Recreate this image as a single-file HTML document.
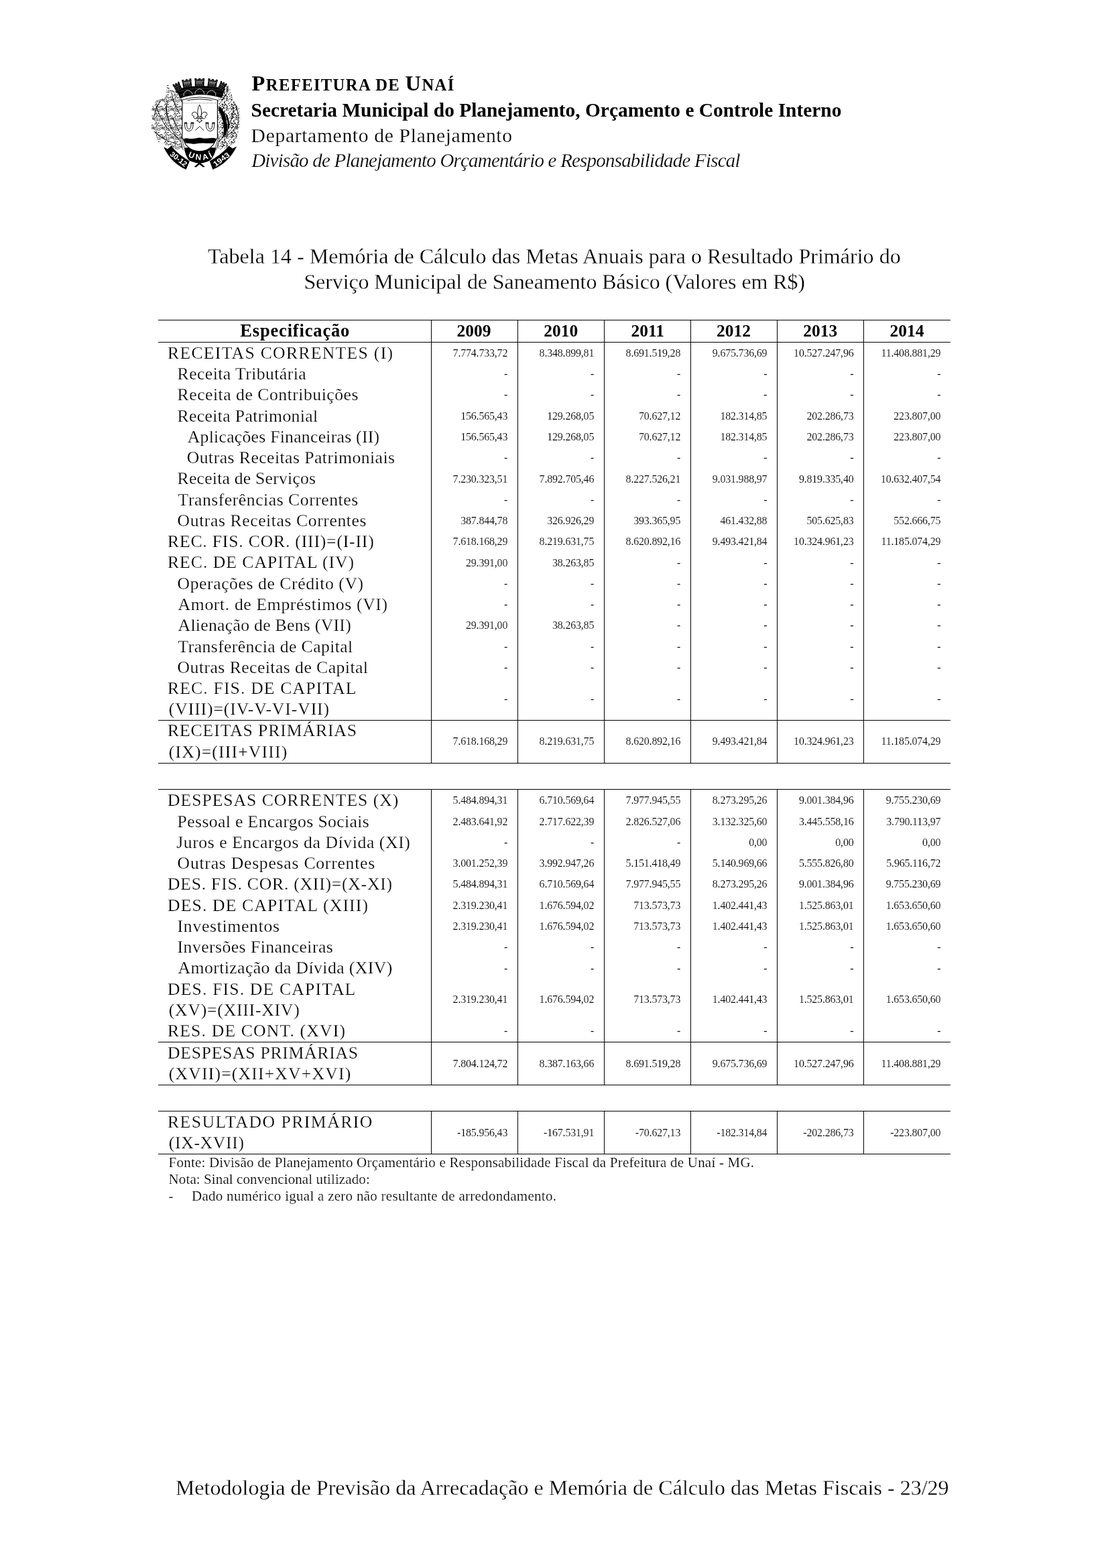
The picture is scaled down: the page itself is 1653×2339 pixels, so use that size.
<!DOCTYPE html>
<html lang="pt-BR">
<head>
<meta charset="utf-8">
<title>Tabela 14 - Memória de Cálculo das Metas Anuais</title>
<style>
html,body{margin:0;padding:0;background:#fff;}
body{width:1653px;height:2339px;position:relative;overflow:hidden;font-family:"Liberation Serif",serif;color:#000;}
.page{position:absolute;left:0;top:0;width:1653px;height:2339px;background:#fff;}
.t{position:absolute;white-space:pre;line-height:1;margin:0;padding:0;-webkit-text-stroke:0.25px #fff;}
.hl{position:absolute;height:1px;background:#000;}
.vl{position:absolute;width:1px;background:#000;}
.num{font-size:16px;-webkit-text-stroke-width:0.14px;}
.bd{-webkit-text-stroke-width:0;}
.fn{-webkit-text-stroke-width:0.22px;}
.big{-webkit-text-stroke-width:0.3px;}
.b{font-weight:bold;}
.i{font-style:italic;}
svg{position:absolute;overflow:visible;}
</style>
</head>
<body>
<div class="page">

<svg class="crest" style="left:220px;top:110px" width="145" height="150" viewBox="220 110 145 150" role="img" aria-label="Brasão de Unaí">
<defs>
<pattern id="dl" width="14" height="14" patternUnits="userSpaceOnUse"><path d="M3.3 7.6l2.1 2.1M6.6 8.1l0.6 1.1M11.7 3.6l0.0 1.6M10.0 7.6l1.1 1.9M8.9 2.1l0.8 -1.3M13.0 5.5l2.5 0.0M0.9 10.6l0.6 1.1M10.9 11.5l1.5 1.5M10.1 12.3l1.4 -2.4M6.0 10.2l1.0 1.8M13.1 12.3l1.3 0.0M6.9 3.6l1.0 -1.8M8.8 4.2l1.4 2.5M8.0 7.5l1.7 -1.7M12.7 9.5l2.9 0.0M13.9 9.4l0.0 2.6M4.6 7.6l1.2 2.0M10.0 3.0l0.9 1.5M1.7 6.7l1.6 -2.8M1.2 11.2l2.1 -2.1M0.3 6.0l2.1 -2.1M0.6 8.6l2.0 0.0M8.2 7.7l1.6 1.6M14.0 4.3l1.4 0.0M7.5 13.3l1.3 -1.3M3.7 9.7l1.3 1.3M13.4 12.6l1.4 -1.4M12.2 5.4l1.3 2.2M1.4 13.6l0.9 1.5M8.9 10.0l1.5 1.5M3.6 4.2l0.9 0.9M5.8 8.1l2.0 0.0M8.2 1.9l1.2 -2.1M6.5 9.5l1.7 1.7M3.9 6.9l0.7 1.1M9.5 13.5l1.7 1.7M4.2 8.4l0.0 1.9M4.4 5.2l0.9 1.5M11.0 1.5l3.1 0.0M9.6 1.8l0.8 1.4" stroke="#000" stroke-width=".8" fill="none"/></pattern>
<pattern id="dr" width="14" height="14" patternUnits="userSpaceOnUse"><path d="M6.3 7.8l1.6 -1.6M12.0 2.7l1.1 1.9M8.6 2.6l1.3 -1.3M1.3 11.3l1.3 -2.2M8.3 5.5l1.9 -1.9M8.6 2.2l3.0 0.0M0.9 0.5l0.0 2.5M10.9 4.6l1.5 2.6M7.3 9.0l0.9 -0.9M1.2 9.2l2.4 -2.4M13.9 11.8l0.9 -1.5M10.6 7.2l1.4 0.0M10.7 5.6l1.4 1.4M13.4 11.9l1.7 0.0M13.0 0.7l2.4 -2.4M5.6 1.0l0.8 -1.4M9.4 4.7l1.4 1.4M13.5 10.6l1.5 0.0M9.9 0.2l2.1 -2.1M2.5 7.8l1.6 -1.6M13.8 10.8l1.8 -1.8M1.6 5.9l0.0 1.2M12.1 13.6l0.9 1.6M12.4 2.9l2.4 -2.4M8.4 8.1l3.4 0.0M3.0 3.6l1.0 1.7M4.1 1.0l1.7 0.0M8.9 0.2l1.4 1.4M6.3 13.4l2.1 -2.1M1.9 5.4l0.8 -1.3M12.7 11.4l0.0 2.8M2.2 8.8l0.8 1.4M13.3 12.4l0.7 1.2M0.7 1.5l1.7 2.9M3.3 9.9l1.5 1.5M12.7 6.9l0.8 1.4M10.1 1.0l0.0 2.3M9.1 8.6l1.8 0.0M12.8 2.9l1.4 0.0M5.8 3.5l1.6 0.0M5.2 8.0l0.0 1.4M1.9 6.3l1.9 1.9M9.7 8.2l0.0 2.5M12.9 6.6l1.9 1.9" stroke="#000" stroke-width=".9" fill="none"/></pattern>
</defs>
<polygon points="271.8,150 268,141 262,136 254,134 251,126 249,126 248.5,140 245,147 236,148 228,154 226,165 227,180 225.5,192 232,200 236,212 246,216 256,219 266,224 271.8,222" fill="url(#dl)"/>
<polygon points="324.6,150 327,143 332,138 336,130 338,126 343,132 346,142 347,150 352,153 357,160 358,175 357.6,186 355,200 350,213 340,219 330,224 324.6,222" fill="url(#dr)"/>
<g stroke="#000" fill="none" stroke-width=".9" stroke-linecap="round">
<path d="M270 212 Q252 196 247 160 M266 206 Q243 192 233 158 M262 214 Q244 210 230 196 M268 170 Q258 152 256 138 M240 150 q-8 10 -10 24 M250 150 q-4 14 2 30 M258 176 q6 16 12 24"/>
<path d="M326 212 Q344 196 349 160 M328 160 Q338 175 340 200 M330 150 Q342 140 340 128 M352 158 q6 14 2 34 M334 205 q10 -4 18 -16"/>
</g>
<path d="M327 158 q9 8 11 22 q2 14 -1 22 l-4 1 q2 -14 -1 -24 q-3 -10 -6 -14z M338 170 q5 10 4 22 l-2 0 q0 -12 -3 -20z" fill="#000"/>
<g transform="translate(220 110) scale(.08937)">
<g fill="#000">
<path d="M478 262 Q870 150 1300 250 L1236 404 Q870 292 548 412Z"/>
<path transform="rotate(0 870 165)" d="M787 75h33v18h33v-18h33v18h33v-18h33v40h-5V255H792V115h-5Z"/>
<path transform="rotate(-9 665 178)" d="M584 90h32v18h32v-18h32v18h32v-18h32v40h-5V266H589V130h-5Z"/>
<path transform="rotate(9 1082 176)" d="M1001 88h32v18h32v-18h32v18h32v-18h32v40h-5V264H1006V128h-5Z"/>
<path transform="rotate(-26 508 232)" d="M448 147h24v18h24v-18h24v18h24v-18h24v40h-5V317H453V187h-5Z"/>
<path transform="rotate(26 1242 218)" d="M1184 133h23v18h23v-18h23v18h23v-18h23v40h-5V303H1189V173h-5Z"/>
</g>
<g stroke="#fff" fill="none">
<g transform="rotate(0 870 165)">
<path d="M799 107h142" stroke-width="8" stroke-dasharray="8 9"/>
<path d="M809 131h122" stroke-width="9"/>
<path d="M817 153h106" stroke-width="16" stroke-dasharray="14 12"/>
<path d="M813 179h114" stroke-width="8" stroke-dasharray="10 8"/>
<path d="M805 201h130" stroke-width="7" stroke-dasharray="7 10"/>
</g>
<g transform="rotate(-9 665 178)">
<path d="M596 120h138" stroke-width="8" stroke-dasharray="8 9"/>
<path d="M606 144h118" stroke-width="9"/>
<path d="M614 166h102" stroke-width="16" stroke-dasharray="14 12"/>
<path d="M610 192h110" stroke-width="8" stroke-dasharray="10 8"/>
<path d="M602 214h126" stroke-width="7" stroke-dasharray="7 10"/>
</g>
<g transform="rotate(9 1082 176)">
<path d="M1013 118h138" stroke-width="8" stroke-dasharray="8 9"/>
<path d="M1023 142h118" stroke-width="9"/>
<path d="M1031 164h102" stroke-width="16" stroke-dasharray="14 12"/>
<path d="M1027 190h110" stroke-width="8" stroke-dasharray="10 8"/>
<path d="M1019 212h126" stroke-width="7" stroke-dasharray="7 10"/>
</g>
<g transform="rotate(-26 508 232)">
<path d="M464 182h88" stroke-width="8" stroke-dasharray="8 9"/>
<path d="M470 210h76" stroke-width="10" stroke-dasharray="9 9"/>
<path d="M466 240h84" stroke-width="8" stroke-dasharray="7 10"/>
<path d="M468 268h80" stroke-width="8" stroke-dasharray="8 9"/>
</g>
<g transform="rotate(26 1242 218)">
<path d="M1200 168h84" stroke-width="8" stroke-dasharray="8 9"/>
<path d="M1206 196h72" stroke-width="10" stroke-dasharray="9 9"/>
<path d="M1202 226h80" stroke-width="8" stroke-dasharray="7 10"/>
<path d="M1204 254h76" stroke-width="8" stroke-dasharray="8 9"/>
</g>
<path d="M792 338 L800 300 Q870 205 940 300 L948 338" stroke-width="9"/>
<path d="M606 372 L606 330 Q664 232 742 318 L752 346" stroke-width="9"/>
<path d="M1140 368 L1138 328 Q1078 232 1002 316 L992 344" stroke-width="9"/>
<path d="M520 300 Q870 190 1270 290" stroke-width="7" stroke-dasharray="7 13"/>
<path d="M548 352 Q870 250 1250 342" stroke-width="7" stroke-dasharray="6 15"/>
</g>
</g>
<path d="M274.8 220.4 L297.7 219 L322.4 220.4 Q320.6 232 313.4 239.4 Q297.7 246.6 282.6 239.8 Q276 232 274.8 220.4Z" fill="#000"/>
<g fill="#fff" stroke="#000" stroke-width="1">
<path d="M270.9 149.4 Q297.7 140.6 324.6 149.4 L324.6 152 Q297.7 143.6 270.9 152Z" fill="#fff" stroke-width=".9"/>
<path d="M271.9 150 V205 L277 215.6 Q285 225.6 297.7 225.8 Q310.6 225.6 318.4 215.6 L324.4 205 V150" stroke-width="1.1"/>
</g>
<path d="M273 153.8H323" stroke="#000" stroke-width=".8" stroke-dasharray=".8 1.6" fill="none"/>
<path d="M268.6 206 L273.4 224 M270.4 205 L275.6 222 M327.6 206 L322.6 224 M325.8 205 L320.6 222" stroke="#000" stroke-width=".7" fill="none"/>
<path d="M273.6 207.6 Q277 205.6 282 206.8 Q290 207.4 296 205.6 Q300 205 303 206.4 Q310 207 316 205.8 Q320 205.4 322.8 207 L319.4 213.4 Q312 214.2 304 213.6 Q297 213.4 292 214.6 Q288 215 286.6 214.6 Q281 213.8 277 213.6Z" fill="#000"/>
<g fill="#fff" stroke="#000" stroke-width=".9" stroke-linejoin="round">
<path d="M297.7 156.2 Q302.4 165 299.6 174.6 L295.8 174.6 Q293 165 297.7 156.2Z"/>
<path d="M295.6 174.4 Q294.6 167.6 290.4 167 Q286.4 167 286.4 170.6 Q286.8 173.4 289.4 173.2 Q288 176.4 291 177 Q294 177.2 295.6 175.6Z"/>
<path d="M299.8 174.4 Q300.8 167.6 305 167 Q309 167 309 170.6 Q308.6 173.4 306 173.2 Q307.4 176.4 304.4 177 Q301.4 177.2 299.8 175.6Z"/>
<path d="M293.6 174.6h8.2v2h-8.2z"/>
<path d="M296.6 176.6 Q295.4 179.6 293.6 180.2 L296.4 180.8 L297.7 183.4 L299 180.8 L301.8 180.2 Q300 179.6 298.8 176.6Z"/>
</g>
<g fill="none" stroke="#000" stroke-width=".9">
<path d="M275.6 183.6 Q275 195.4 281.8 195.6 Q288.8 195.4 288 183.6 M278.6 184 Q278.4 192.4 281.8 192.6 Q285.4 192.4 285 184"/>
<path d="M307.4 183.6 Q306.8 195.4 313.6 195.6 Q320.6 195.4 319.8 183.6 M310.4 184 Q310.2 192.4 313.6 192.6 Q317.2 192.4 316.8 184"/>
<path d="M291.4 194.6 L297.7 188.4 L304 194.6"/>
</g>
<path d="M275 182.4h4.2v2.2h-4.2z M284.6 182.4h4.8v2.2h-4.8z M306.6 182.4h4.8v2.2h-4.8z M316.4 182.4h4.2v2.2h-4.2z" fill="#000"/>
<g fill="#000">
<path d="M244.1 219.3 L250 222.2 L255.3 217.8 Q268 233 283.2 239.4 L277.6 252.9 Q255 243 244.1 219.3Z"/>
<path d="M353.2 218.4 L346.9 221.6 L341.5 217.5 Q328 233 312.6 239.4 L317.4 252.9 Q341 243 353.2 218.4Z"/>
<path d="M289.6 248.8 L296 243.4 L290.6 242.4 L291 241.2 L304.4 241.2 L304.8 242.4 L299.4 243.4 L305.8 248.8 L303 249.6 L297.7 245.2 L292.4 249.6Z"/>
</g>
<path d="M268.6 228.4 Q275 236 283.6 240.4 M327.4 228.4 Q321 236 312.2 240.4" stroke="#fff" stroke-width=".9" fill="none"/>
<g fill="#fff" font-family="'Liberation Sans', sans-serif" font-weight="bold" text-anchor="middle">
<text font-size="11" transform="translate(264.2 240.2) rotate(38.5)" textLength="29" lengthAdjust="spacingAndGlyphs">30-12</text>
<text font-size="11" transform="translate(332.4 240.8) rotate(-36.7)" textLength="27.5" lengthAdjust="spacingAndGlyphs">1943</text>
<path id="unaiarc" d="M277.8 231.4 Q298.9 245.4 320 232.6" fill="none"/>
<text font-size="12" letter-spacing="3.1"><textPath href="#unaiarc" startOffset="53.5%">UNAÍ</textPath></text>
</g>
</svg>
<header>
<div class="t bd" style="top:107.78px;font-size:24.6px;left:375.60px;letter-spacing:1.371px;font-weight:bold;"><span style="font-size:32.5px">P</span>REFEITURA DE <span style="font-size:32.5px">U</span>NAÍ</div>
<div class="t bd" style="top:149.58px;font-size:29.4px;left:374.60px;letter-spacing:0.005px;font-weight:bold;">Secretaria Municipal do Planejamento, Orçamento e Controle Interno</div>
<div class="t" style="top:187.81px;font-size:29.6px;left:374.60px;letter-spacing:0.667px;">Departamento de Planejamento</div>
<div class="t" style="top:224.70px;font-size:28.9px;left:375.20px;letter-spacing:-0.751px;font-style:italic;">Divisão de Planejamento Orçamentário e Responsabilidade Fiscal</div>
</header>
<main>
<div class="t big" style="top:365.60px;font-size:32px;left:310.00px;letter-spacing:0.032px;">Tabela 14 - Memória de Cálculo das Metas Anuais para o Resultado Primário do</div>
<div class="t big" style="top:403.50px;font-size:32px;left:453.40px;letter-spacing:-0.096px;">Serviço Municipal de Saneamento Básico (Valores em R$)</div>
<section class="table">
<div class="hl" style="left:236px;top:477px;width:1182px"></div>
<div class="hl" style="left:236px;top:510px;width:1182px"></div>
<div class="hl" style="left:236px;top:1074px;width:1182px"></div>
<div class="hl" style="left:236px;top:1138px;width:1182px"></div>
<div class="hl" style="left:236px;top:1177px;width:1182px"></div>
<div class="hl" style="left:236px;top:1554px;width:1182px"></div>
<div class="hl" style="left:236px;top:1618px;width:1182px"></div>
<div class="hl" style="left:236px;top:1657px;width:1182px"></div>
<div class="hl" style="left:236px;top:1721px;width:1182px"></div>
<div class="vl" style="left:643px;top:477px;height:662px"></div>
<div class="vl" style="left:643px;top:1177px;height:442px"></div>
<div class="vl" style="left:643px;top:1657px;height:65px"></div>
<div class="vl" style="left:772px;top:477px;height:662px"></div>
<div class="vl" style="left:772px;top:1177px;height:442px"></div>
<div class="vl" style="left:772px;top:1657px;height:65px"></div>
<div class="vl" style="left:901px;top:477px;height:662px"></div>
<div class="vl" style="left:901px;top:1177px;height:442px"></div>
<div class="vl" style="left:901px;top:1657px;height:65px"></div>
<div class="vl" style="left:1030px;top:477px;height:662px"></div>
<div class="vl" style="left:1030px;top:1177px;height:442px"></div>
<div class="vl" style="left:1030px;top:1657px;height:65px"></div>
<div class="vl" style="left:1159px;top:477px;height:662px"></div>
<div class="vl" style="left:1159px;top:1177px;height:442px"></div>
<div class="vl" style="left:1159px;top:1657px;height:65px"></div>
<div class="vl" style="left:1288px;top:477px;height:662px"></div>
<div class="vl" style="left:1288px;top:1177px;height:442px"></div>
<div class="vl" style="left:1288px;top:1657px;height:65px"></div>
<div class="t bd" style="top:479.61px;font-size:26.5px;left:-59.80px;width:1000px;text-align:center;letter-spacing:0.833px;font-weight:bold;">Especificação</div>
<div class="t bd" style="top:480.94px;font-size:25.5px;left:206.90px;width:1000px;text-align:center;font-weight:bold;">2009</div>
<div class="t bd" style="top:480.94px;font-size:25.5px;left:336.80px;width:1000px;text-align:center;font-weight:bold;">2010</div>
<div class="t bd" style="top:480.94px;font-size:25.5px;left:466.20px;width:1000px;text-align:center;font-weight:bold;">2011</div>
<div class="t bd" style="top:480.94px;font-size:25.5px;left:594.60px;width:1000px;text-align:center;font-weight:bold;">2012</div>
<div class="t bd" style="top:480.94px;font-size:25.5px;left:723.80px;width:1000px;text-align:center;font-weight:bold;">2013</div>
<div class="t bd" style="top:480.94px;font-size:25.5px;left:853.00px;width:1000px;text-align:center;font-weight:bold;">2014</div>
<div class="t" style="top:513.78px;font-size:25.7px;left:250.00px;letter-spacing:1.286px;">RECEITAS CORRENTES (I)</div>
<div class="t num" style="top:518.90px;font-size:16px;right:895.80px;letter-spacing:-0.2px;">7.774.733,72</div>
<div class="t num" style="top:518.90px;font-size:16px;right:766.80px;letter-spacing:-0.2px;">8.348.899,81</div>
<div class="t num" style="top:518.90px;font-size:16px;right:637.80px;letter-spacing:-0.2px;">8.691.519,28</div>
<div class="t num" style="top:518.90px;font-size:16px;right:508.60px;letter-spacing:-0.2px;">9.675.736,69</div>
<div class="t num" style="top:518.90px;font-size:16px;right:379.50px;letter-spacing:-0.2px;">10.527.247,96</div>
<div class="t num" style="top:518.90px;font-size:16px;right:249.70px;letter-spacing:-0.2px;">11.408.881,29</div>
<div class="t" style="top:545.05px;font-size:25.7px;left:264.60px;letter-spacing:0.429px;">Receita Tributária</div>
<div class="t num" style="top:550.17px;font-size:16px;right:895.80px;letter-spacing:-0.2px;">-</div>
<div class="t num" style="top:550.17px;font-size:16px;right:766.80px;letter-spacing:-0.2px;">-</div>
<div class="t num" style="top:550.17px;font-size:16px;right:637.80px;letter-spacing:-0.2px;">-</div>
<div class="t num" style="top:550.17px;font-size:16px;right:508.60px;letter-spacing:-0.2px;">-</div>
<div class="t num" style="top:550.17px;font-size:16px;right:379.50px;letter-spacing:-0.2px;">-</div>
<div class="t num" style="top:550.17px;font-size:16px;right:249.70px;letter-spacing:-0.2px;">-</div>
<div class="t" style="top:576.32px;font-size:25.7px;left:264.60px;letter-spacing:0.509px;">Receita de Contribuições</div>
<div class="t num" style="top:581.44px;font-size:16px;right:895.80px;letter-spacing:-0.2px;">-</div>
<div class="t num" style="top:581.44px;font-size:16px;right:766.80px;letter-spacing:-0.2px;">-</div>
<div class="t num" style="top:581.44px;font-size:16px;right:637.80px;letter-spacing:-0.2px;">-</div>
<div class="t num" style="top:581.44px;font-size:16px;right:508.60px;letter-spacing:-0.2px;">-</div>
<div class="t num" style="top:581.44px;font-size:16px;right:379.50px;letter-spacing:-0.2px;">-</div>
<div class="t num" style="top:581.44px;font-size:16px;right:249.70px;letter-spacing:-0.2px;">-</div>
<div class="t" style="top:607.59px;font-size:25.7px;left:264.60px;letter-spacing:0.350px;">Receita Patrimonial</div>
<div class="t num" style="top:612.71px;font-size:16px;right:895.80px;letter-spacing:-0.2px;">156.565,43</div>
<div class="t num" style="top:612.71px;font-size:16px;right:766.80px;letter-spacing:-0.2px;">129.268,05</div>
<div class="t num" style="top:612.71px;font-size:16px;right:637.80px;letter-spacing:-0.2px;">70.627,12</div>
<div class="t num" style="top:612.71px;font-size:16px;right:508.60px;letter-spacing:-0.2px;">182.314,85</div>
<div class="t num" style="top:612.71px;font-size:16px;right:379.50px;letter-spacing:-0.2px;">202.286,73</div>
<div class="t num" style="top:612.71px;font-size:16px;right:249.70px;letter-spacing:-0.2px;">223.807,00</div>
<div class="t" style="top:638.86px;font-size:25.7px;left:279.80px;letter-spacing:0.258px;">Aplicações Financeiras (II)</div>
<div class="t num" style="top:643.98px;font-size:16px;right:895.80px;letter-spacing:-0.2px;">156.565,43</div>
<div class="t num" style="top:643.98px;font-size:16px;right:766.80px;letter-spacing:-0.2px;">129.268,05</div>
<div class="t num" style="top:643.98px;font-size:16px;right:637.80px;letter-spacing:-0.2px;">70.627,12</div>
<div class="t num" style="top:643.98px;font-size:16px;right:508.60px;letter-spacing:-0.2px;">182.314,85</div>
<div class="t num" style="top:643.98px;font-size:16px;right:379.50px;letter-spacing:-0.2px;">202.286,73</div>
<div class="t num" style="top:643.98px;font-size:16px;right:249.70px;letter-spacing:-0.2px;">223.807,00</div>
<div class="t" style="top:670.13px;font-size:25.7px;left:278.80px;letter-spacing:0.444px;">Outras Receitas Patrimoniais</div>
<div class="t num" style="top:675.25px;font-size:16px;right:895.80px;letter-spacing:-0.2px;">-</div>
<div class="t num" style="top:675.25px;font-size:16px;right:766.80px;letter-spacing:-0.2px;">-</div>
<div class="t num" style="top:675.25px;font-size:16px;right:637.80px;letter-spacing:-0.2px;">-</div>
<div class="t num" style="top:675.25px;font-size:16px;right:508.60px;letter-spacing:-0.2px;">-</div>
<div class="t num" style="top:675.25px;font-size:16px;right:379.50px;letter-spacing:-0.2px;">-</div>
<div class="t num" style="top:675.25px;font-size:16px;right:249.70px;letter-spacing:-0.2px;">-</div>
<div class="t" style="top:701.40px;font-size:25.7px;left:264.60px;letter-spacing:0.217px;">Receita de Serviços</div>
<div class="t num" style="top:706.52px;font-size:16px;right:895.80px;letter-spacing:-0.2px;">7.230.323,51</div>
<div class="t num" style="top:706.52px;font-size:16px;right:766.80px;letter-spacing:-0.2px;">7.892.705,46</div>
<div class="t num" style="top:706.52px;font-size:16px;right:637.80px;letter-spacing:-0.2px;">8.227.526,21</div>
<div class="t num" style="top:706.52px;font-size:16px;right:508.60px;letter-spacing:-0.2px;">9.031.988,97</div>
<div class="t num" style="top:706.52px;font-size:16px;right:379.50px;letter-spacing:-0.2px;">9.819.335,40</div>
<div class="t num" style="top:706.52px;font-size:16px;right:249.70px;letter-spacing:-0.2px;">10.632.407,54</div>
<div class="t" style="top:732.67px;font-size:25.7px;left:265.60px;letter-spacing:0.522px;">Transferências Correntes</div>
<div class="t num" style="top:737.79px;font-size:16px;right:895.80px;letter-spacing:-0.2px;">-</div>
<div class="t num" style="top:737.79px;font-size:16px;right:766.80px;letter-spacing:-0.2px;">-</div>
<div class="t num" style="top:737.79px;font-size:16px;right:637.80px;letter-spacing:-0.2px;">-</div>
<div class="t num" style="top:737.79px;font-size:16px;right:508.60px;letter-spacing:-0.2px;">-</div>
<div class="t num" style="top:737.79px;font-size:16px;right:379.50px;letter-spacing:-0.2px;">-</div>
<div class="t num" style="top:737.79px;font-size:16px;right:249.70px;letter-spacing:-0.2px;">-</div>
<div class="t" style="top:763.94px;font-size:25.7px;left:264.60px;letter-spacing:0.571px;">Outras Receitas Correntes</div>
<div class="t num" style="top:769.06px;font-size:16px;right:895.80px;letter-spacing:-0.2px;">387.844,78</div>
<div class="t num" style="top:769.06px;font-size:16px;right:766.80px;letter-spacing:-0.2px;">326.926,29</div>
<div class="t num" style="top:769.06px;font-size:16px;right:637.80px;letter-spacing:-0.2px;">393.365,95</div>
<div class="t num" style="top:769.06px;font-size:16px;right:508.60px;letter-spacing:-0.2px;">461.432,88</div>
<div class="t num" style="top:769.06px;font-size:16px;right:379.50px;letter-spacing:-0.2px;">505.625,83</div>
<div class="t num" style="top:769.06px;font-size:16px;right:249.70px;letter-spacing:-0.2px;">552.666,75</div>
<div class="t" style="top:795.21px;font-size:25.7px;left:250.00px;letter-spacing:0.796px;">REC. FIS. COR. (III)=(I-II)</div>
<div class="t num" style="top:800.33px;font-size:16px;right:895.80px;letter-spacing:-0.2px;">7.618.168,29</div>
<div class="t num" style="top:800.33px;font-size:16px;right:766.80px;letter-spacing:-0.2px;">8.219.631,75</div>
<div class="t num" style="top:800.33px;font-size:16px;right:637.80px;letter-spacing:-0.2px;">8.620.892,16</div>
<div class="t num" style="top:800.33px;font-size:16px;right:508.60px;letter-spacing:-0.2px;">9.493.421,84</div>
<div class="t num" style="top:800.33px;font-size:16px;right:379.50px;letter-spacing:-0.2px;">10.324.961,23</div>
<div class="t num" style="top:800.33px;font-size:16px;right:249.70px;letter-spacing:-0.2px;">11.185.074,29</div>
<div class="t" style="top:826.48px;font-size:25.7px;left:250.00px;letter-spacing:0.979px;">REC. DE CAPITAL (IV)</div>
<div class="t num" style="top:831.60px;font-size:16px;right:895.80px;letter-spacing:-0.2px;">29.391,00</div>
<div class="t num" style="top:831.60px;font-size:16px;right:766.80px;letter-spacing:-0.2px;">38.263,85</div>
<div class="t num" style="top:831.60px;font-size:16px;right:637.80px;letter-spacing:-0.2px;">-</div>
<div class="t num" style="top:831.60px;font-size:16px;right:508.60px;letter-spacing:-0.2px;">-</div>
<div class="t num" style="top:831.60px;font-size:16px;right:379.50px;letter-spacing:-0.2px;">-</div>
<div class="t num" style="top:831.60px;font-size:16px;right:249.70px;letter-spacing:-0.2px;">-</div>
<div class="t" style="top:857.75px;font-size:25.7px;left:264.60px;letter-spacing:0.561px;">Operações de Crédito (V)</div>
<div class="t num" style="top:862.87px;font-size:16px;right:895.80px;letter-spacing:-0.2px;">-</div>
<div class="t num" style="top:862.87px;font-size:16px;right:766.80px;letter-spacing:-0.2px;">-</div>
<div class="t num" style="top:862.87px;font-size:16px;right:637.80px;letter-spacing:-0.2px;">-</div>
<div class="t num" style="top:862.87px;font-size:16px;right:508.60px;letter-spacing:-0.2px;">-</div>
<div class="t num" style="top:862.87px;font-size:16px;right:379.50px;letter-spacing:-0.2px;">-</div>
<div class="t num" style="top:862.87px;font-size:16px;right:249.70px;letter-spacing:-0.2px;">-</div>
<div class="t" style="top:889.02px;font-size:25.7px;left:265.60px;letter-spacing:0.628px;">Amort. de Empréstimos (VI)</div>
<div class="t num" style="top:894.14px;font-size:16px;right:895.80px;letter-spacing:-0.2px;">-</div>
<div class="t num" style="top:894.14px;font-size:16px;right:766.80px;letter-spacing:-0.2px;">-</div>
<div class="t num" style="top:894.14px;font-size:16px;right:637.80px;letter-spacing:-0.2px;">-</div>
<div class="t num" style="top:894.14px;font-size:16px;right:508.60px;letter-spacing:-0.2px;">-</div>
<div class="t num" style="top:894.14px;font-size:16px;right:379.50px;letter-spacing:-0.2px;">-</div>
<div class="t num" style="top:894.14px;font-size:16px;right:249.70px;letter-spacing:-0.2px;">-</div>
<div class="t" style="top:920.29px;font-size:25.7px;left:265.60px;letter-spacing:0.291px;">Alienação de Bens (VII)</div>
<div class="t num" style="top:925.41px;font-size:16px;right:895.80px;letter-spacing:-0.2px;">29.391,00</div>
<div class="t num" style="top:925.41px;font-size:16px;right:766.80px;letter-spacing:-0.2px;">38.263,85</div>
<div class="t num" style="top:925.41px;font-size:16px;right:637.80px;letter-spacing:-0.2px;">-</div>
<div class="t num" style="top:925.41px;font-size:16px;right:508.60px;letter-spacing:-0.2px;">-</div>
<div class="t num" style="top:925.41px;font-size:16px;right:379.50px;letter-spacing:-0.2px;">-</div>
<div class="t num" style="top:925.41px;font-size:16px;right:249.70px;letter-spacing:-0.2px;">-</div>
<div class="t" style="top:951.56px;font-size:25.7px;left:265.60px;letter-spacing:0.391px;">Transferência de Capital</div>
<div class="t num" style="top:956.68px;font-size:16px;right:895.80px;letter-spacing:-0.2px;">-</div>
<div class="t num" style="top:956.68px;font-size:16px;right:766.80px;letter-spacing:-0.2px;">-</div>
<div class="t num" style="top:956.68px;font-size:16px;right:637.80px;letter-spacing:-0.2px;">-</div>
<div class="t num" style="top:956.68px;font-size:16px;right:508.60px;letter-spacing:-0.2px;">-</div>
<div class="t num" style="top:956.68px;font-size:16px;right:379.50px;letter-spacing:-0.2px;">-</div>
<div class="t num" style="top:956.68px;font-size:16px;right:249.70px;letter-spacing:-0.2px;">-</div>
<div class="t" style="top:982.83px;font-size:25.7px;left:264.60px;letter-spacing:0.448px;">Outras Receitas de Capital</div>
<div class="t num" style="top:987.95px;font-size:16px;right:895.80px;letter-spacing:-0.2px;">-</div>
<div class="t num" style="top:987.95px;font-size:16px;right:766.80px;letter-spacing:-0.2px;">-</div>
<div class="t num" style="top:987.95px;font-size:16px;right:637.80px;letter-spacing:-0.2px;">-</div>
<div class="t num" style="top:987.95px;font-size:16px;right:508.60px;letter-spacing:-0.2px;">-</div>
<div class="t num" style="top:987.95px;font-size:16px;right:379.50px;letter-spacing:-0.2px;">-</div>
<div class="t num" style="top:987.95px;font-size:16px;right:249.70px;letter-spacing:-0.2px;">-</div>
<div class="t" style="top:1014.10px;font-size:25.7px;left:250.00px;letter-spacing:1.137px;">REC. FIS. DE CAPITAL</div>
<div class="t" style="top:1045.37px;font-size:25.7px;left:251.80px;letter-spacing:0.895px;">(VIII)=(IV-V-VI-VII)</div>
<div class="t num" style="top:1034.86px;font-size:16px;right:895.80px;letter-spacing:-0.2px;">-</div>
<div class="t num" style="top:1034.86px;font-size:16px;right:766.80px;letter-spacing:-0.2px;">-</div>
<div class="t num" style="top:1034.86px;font-size:16px;right:637.80px;letter-spacing:-0.2px;">-</div>
<div class="t num" style="top:1034.86px;font-size:16px;right:508.60px;letter-spacing:-0.2px;">-</div>
<div class="t num" style="top:1034.86px;font-size:16px;right:379.50px;letter-spacing:-0.2px;">-</div>
<div class="t num" style="top:1034.86px;font-size:16px;right:249.70px;letter-spacing:-0.2px;">-</div>
<div class="t" style="top:1076.98px;font-size:25.7px;left:250.00px;letter-spacing:0.888px;">RECEITAS PRIMÁRIAS</div>
<div class="t" style="top:1109.08px;font-size:25.7px;left:251.80px;letter-spacing:1.164px;">(IX)=(III+VIII)</div>
<div class="t num" style="top:1097.73px;font-size:16px;right:895.80px;letter-spacing:-0.2px;">7.618.168,29</div>
<div class="t num" style="top:1097.73px;font-size:16px;right:766.80px;letter-spacing:-0.2px;">8.219.631,75</div>
<div class="t num" style="top:1097.73px;font-size:16px;right:637.80px;letter-spacing:-0.2px;">8.620.892,16</div>
<div class="t num" style="top:1097.73px;font-size:16px;right:508.60px;letter-spacing:-0.2px;">9.493.421,84</div>
<div class="t num" style="top:1097.73px;font-size:16px;right:379.50px;letter-spacing:-0.2px;">10.324.961,23</div>
<div class="t num" style="top:1097.73px;font-size:16px;right:249.70px;letter-spacing:-0.2px;">11.185.074,29</div>
<div class="t" style="top:1181.28px;font-size:25.7px;left:250.00px;letter-spacing:0.967px;">DESPESAS CORRENTES (X)</div>
<div class="t num" style="top:1186.40px;font-size:16px;right:895.80px;letter-spacing:-0.2px;">5.484.894,31</div>
<div class="t num" style="top:1186.40px;font-size:16px;right:766.80px;letter-spacing:-0.2px;">6.710.569,64</div>
<div class="t num" style="top:1186.40px;font-size:16px;right:637.80px;letter-spacing:-0.2px;">7.977.945,55</div>
<div class="t num" style="top:1186.40px;font-size:16px;right:508.60px;letter-spacing:-0.2px;">8.273.295,26</div>
<div class="t num" style="top:1186.40px;font-size:16px;right:379.50px;letter-spacing:-0.2px;">9.001.384,96</div>
<div class="t num" style="top:1186.40px;font-size:16px;right:249.70px;letter-spacing:-0.2px;">9.755.230,69</div>
<div class="t" style="top:1212.55px;font-size:25.7px;left:264.60px;letter-spacing:0.368px;">Pessoal e Encargos Sociais</div>
<div class="t num" style="top:1217.67px;font-size:16px;right:895.80px;letter-spacing:-0.2px;">2.483.641,92</div>
<div class="t num" style="top:1217.67px;font-size:16px;right:766.80px;letter-spacing:-0.2px;">2.717.622,39</div>
<div class="t num" style="top:1217.67px;font-size:16px;right:637.80px;letter-spacing:-0.2px;">2.826.527,06</div>
<div class="t num" style="top:1217.67px;font-size:16px;right:508.60px;letter-spacing:-0.2px;">3.132.325,60</div>
<div class="t num" style="top:1217.67px;font-size:16px;right:379.50px;letter-spacing:-0.2px;">3.445.558,16</div>
<div class="t num" style="top:1217.67px;font-size:16px;right:249.70px;letter-spacing:-0.2px;">3.790.113,97</div>
<div class="t" style="top:1243.82px;font-size:25.7px;left:263.20px;letter-spacing:0.580px;">Juros e Encargos da Dívida (XI)</div>
<div class="t num" style="top:1248.94px;font-size:16px;right:895.80px;letter-spacing:-0.2px;">-</div>
<div class="t num" style="top:1248.94px;font-size:16px;right:766.80px;letter-spacing:-0.2px;">-</div>
<div class="t num" style="top:1248.94px;font-size:16px;right:637.80px;letter-spacing:-0.2px;">-</div>
<div class="t num" style="top:1248.94px;font-size:16px;right:508.60px;letter-spacing:-0.2px;">0,00</div>
<div class="t num" style="top:1248.94px;font-size:16px;right:379.50px;letter-spacing:-0.2px;">0,00</div>
<div class="t num" style="top:1248.94px;font-size:16px;right:249.70px;letter-spacing:-0.2px;">0,00</div>
<div class="t" style="top:1275.09px;font-size:25.7px;left:264.60px;letter-spacing:0.742px;">Outras Despesas Correntes</div>
<div class="t num" style="top:1280.21px;font-size:16px;right:895.80px;letter-spacing:-0.2px;">3.001.252,39</div>
<div class="t num" style="top:1280.21px;font-size:16px;right:766.80px;letter-spacing:-0.2px;">3.992.947,26</div>
<div class="t num" style="top:1280.21px;font-size:16px;right:637.80px;letter-spacing:-0.2px;">5.151.418,49</div>
<div class="t num" style="top:1280.21px;font-size:16px;right:508.60px;letter-spacing:-0.2px;">5.140.969,66</div>
<div class="t num" style="top:1280.21px;font-size:16px;right:379.50px;letter-spacing:-0.2px;">5.555.826,80</div>
<div class="t num" style="top:1280.21px;font-size:16px;right:249.70px;letter-spacing:-0.2px;">5.965.116,72</div>
<div class="t" style="top:1306.36px;font-size:25.7px;left:250.00px;letter-spacing:0.750px;">DES. FIS. COR. (XII)=(X-XI)</div>
<div class="t num" style="top:1311.48px;font-size:16px;right:895.80px;letter-spacing:-0.2px;">5.484.894,31</div>
<div class="t num" style="top:1311.48px;font-size:16px;right:766.80px;letter-spacing:-0.2px;">6.710.569,64</div>
<div class="t num" style="top:1311.48px;font-size:16px;right:637.80px;letter-spacing:-0.2px;">7.977.945,55</div>
<div class="t num" style="top:1311.48px;font-size:16px;right:508.60px;letter-spacing:-0.2px;">8.273.295,26</div>
<div class="t num" style="top:1311.48px;font-size:16px;right:379.50px;letter-spacing:-0.2px;">9.001.384,96</div>
<div class="t num" style="top:1311.48px;font-size:16px;right:249.70px;letter-spacing:-0.2px;">9.755.230,69</div>
<div class="t" style="top:1337.63px;font-size:25.7px;left:250.00px;letter-spacing:1.133px;">DES. DE CAPITAL (XIII)</div>
<div class="t num" style="top:1342.75px;font-size:16px;right:895.80px;letter-spacing:-0.2px;">2.319.230,41</div>
<div class="t num" style="top:1342.75px;font-size:16px;right:766.80px;letter-spacing:-0.2px;">1.676.594,02</div>
<div class="t num" style="top:1342.75px;font-size:16px;right:637.80px;letter-spacing:-0.2px;">713.573,73</div>
<div class="t num" style="top:1342.75px;font-size:16px;right:508.60px;letter-spacing:-0.2px;">1.402.441,43</div>
<div class="t num" style="top:1342.75px;font-size:16px;right:379.50px;letter-spacing:-0.2px;">1.525.863,01</div>
<div class="t num" style="top:1342.75px;font-size:16px;right:249.70px;letter-spacing:-0.2px;">1.653.650,60</div>
<div class="t" style="top:1368.90px;font-size:25.7px;left:264.60px;letter-spacing:0.692px;">Investimentos</div>
<div class="t num" style="top:1374.02px;font-size:16px;right:895.80px;letter-spacing:-0.2px;">2.319.230,41</div>
<div class="t num" style="top:1374.02px;font-size:16px;right:766.80px;letter-spacing:-0.2px;">1.676.594,02</div>
<div class="t num" style="top:1374.02px;font-size:16px;right:637.80px;letter-spacing:-0.2px;">713.573,73</div>
<div class="t num" style="top:1374.02px;font-size:16px;right:508.60px;letter-spacing:-0.2px;">1.402.441,43</div>
<div class="t num" style="top:1374.02px;font-size:16px;right:379.50px;letter-spacing:-0.2px;">1.525.863,01</div>
<div class="t num" style="top:1374.02px;font-size:16px;right:249.70px;letter-spacing:-0.2px;">1.653.650,60</div>
<div class="t" style="top:1400.17px;font-size:25.7px;left:264.60px;letter-spacing:0.445px;">Inversões Financeiras</div>
<div class="t num" style="top:1405.29px;font-size:16px;right:895.80px;letter-spacing:-0.2px;">-</div>
<div class="t num" style="top:1405.29px;font-size:16px;right:766.80px;letter-spacing:-0.2px;">-</div>
<div class="t num" style="top:1405.29px;font-size:16px;right:637.80px;letter-spacing:-0.2px;">-</div>
<div class="t num" style="top:1405.29px;font-size:16px;right:508.60px;letter-spacing:-0.2px;">-</div>
<div class="t num" style="top:1405.29px;font-size:16px;right:379.50px;letter-spacing:-0.2px;">-</div>
<div class="t num" style="top:1405.29px;font-size:16px;right:249.70px;letter-spacing:-0.2px;">-</div>
<div class="t" style="top:1431.44px;font-size:25.7px;left:265.60px;letter-spacing:0.415px;">Amortização da Dívida (XIV)</div>
<div class="t num" style="top:1436.56px;font-size:16px;right:895.80px;letter-spacing:-0.2px;">-</div>
<div class="t num" style="top:1436.56px;font-size:16px;right:766.80px;letter-spacing:-0.2px;">-</div>
<div class="t num" style="top:1436.56px;font-size:16px;right:637.80px;letter-spacing:-0.2px;">-</div>
<div class="t num" style="top:1436.56px;font-size:16px;right:508.60px;letter-spacing:-0.2px;">-</div>
<div class="t num" style="top:1436.56px;font-size:16px;right:379.50px;letter-spacing:-0.2px;">-</div>
<div class="t num" style="top:1436.56px;font-size:16px;right:249.70px;letter-spacing:-0.2px;">-</div>
<div class="t" style="top:1462.71px;font-size:25.7px;left:250.00px;letter-spacing:1.153px;">DES. FIS. DE CAPITAL</div>
<div class="t" style="top:1493.98px;font-size:25.7px;left:251.80px;letter-spacing:0.764px;">(XV)=(XIII-XIV)</div>
<div class="t num" style="top:1483.46px;font-size:16px;right:895.80px;letter-spacing:-0.2px;">2.319.230,41</div>
<div class="t num" style="top:1483.46px;font-size:16px;right:766.80px;letter-spacing:-0.2px;">1.676.594,02</div>
<div class="t num" style="top:1483.46px;font-size:16px;right:637.80px;letter-spacing:-0.2px;">713.573,73</div>
<div class="t num" style="top:1483.46px;font-size:16px;right:508.60px;letter-spacing:-0.2px;">1.402.441,43</div>
<div class="t num" style="top:1483.46px;font-size:16px;right:379.50px;letter-spacing:-0.2px;">1.525.863,01</div>
<div class="t num" style="top:1483.46px;font-size:16px;right:249.70px;letter-spacing:-0.2px;">1.653.650,60</div>
<div class="t" style="top:1525.25px;font-size:25.7px;left:250.00px;letter-spacing:1.150px;">RES. DE CONT. (XVI)</div>
<div class="t num" style="top:1530.37px;font-size:16px;right:895.80px;letter-spacing:-0.2px;">-</div>
<div class="t num" style="top:1530.37px;font-size:16px;right:766.80px;letter-spacing:-0.2px;">-</div>
<div class="t num" style="top:1530.37px;font-size:16px;right:637.80px;letter-spacing:-0.2px;">-</div>
<div class="t num" style="top:1530.37px;font-size:16px;right:508.60px;letter-spacing:-0.2px;">-</div>
<div class="t num" style="top:1530.37px;font-size:16px;right:379.50px;letter-spacing:-0.2px;">-</div>
<div class="t num" style="top:1530.37px;font-size:16px;right:249.70px;letter-spacing:-0.2px;">-</div>
<div class="t" style="top:1557.98px;font-size:25.7px;left:250.00px;letter-spacing:0.706px;">DESPESAS PRIMÁRIAS</div>
<div class="t" style="top:1589.05px;font-size:25.7px;left:251.80px;letter-spacing:1.172px;">(XVII)=(XII+XV+XVI)</div>
<div class="t num" style="top:1578.73px;font-size:16px;right:895.80px;letter-spacing:-0.2px;">7.804.124,72</div>
<div class="t num" style="top:1578.73px;font-size:16px;right:766.80px;letter-spacing:-0.2px;">8.387.163,66</div>
<div class="t num" style="top:1578.73px;font-size:16px;right:637.80px;letter-spacing:-0.2px;">8.691.519,28</div>
<div class="t num" style="top:1578.73px;font-size:16px;right:508.60px;letter-spacing:-0.2px;">9.675.736,69</div>
<div class="t num" style="top:1578.73px;font-size:16px;right:379.50px;letter-spacing:-0.2px;">10.527.247,96</div>
<div class="t num" style="top:1578.73px;font-size:16px;right:249.70px;letter-spacing:-0.2px;">11.408.881,29</div>
<div class="t" style="top:1660.78px;font-size:25.7px;left:250.00px;letter-spacing:1.476px;">RESULTADO PRIMÁRIO</div>
<div class="t" style="top:1692.05px;font-size:25.7px;left:251.80px;letter-spacing:0.650px;">(IX-XVII)</div>
<div class="t num" style="top:1681.53px;font-size:16px;right:895.80px;letter-spacing:-0.2px;">-185.956,43</div>
<div class="t num" style="top:1681.53px;font-size:16px;right:766.80px;letter-spacing:-0.2px;">-167.531,91</div>
<div class="t num" style="top:1681.53px;font-size:16px;right:637.80px;letter-spacing:-0.2px;">-70.627,13</div>
<div class="t num" style="top:1681.53px;font-size:16px;right:508.60px;letter-spacing:-0.2px;">-182.314,84</div>
<div class="t num" style="top:1681.53px;font-size:16px;right:379.50px;letter-spacing:-0.2px;">-202.286,73</div>
<div class="t num" style="top:1681.53px;font-size:16px;right:249.70px;letter-spacing:-0.2px;">-223.807,00</div>
</section>
<footer class="notes">
<div class="t fn" style="top:1724.11px;font-size:21px;left:251.60px;letter-spacing:0.205px;">Fonte: Divisão de Planejamento Orçamentário e Responsabilidade Fiscal da Prefeitura de Unaí - MG.</div>
<div class="t fn" style="top:1748.91px;font-size:21px;left:251.60px;letter-spacing:0.097px;">Nota: Sinal convencional utilizado:</div>
<div class="t fn" style="top:1774.11px;font-size:21px;left:251.60px;">-</div>
<div class="t fn" style="top:1774.11px;font-size:21px;left:286.00px;letter-spacing:0.275px;">Dado numérico igual a zero não resultante de arredondamento.</div>
</footer>
</main>
<footer>
<div class="t big" style="top:2203.10px;font-size:32px;left:261.90px;letter-spacing:0.014px;">Metodologia de Previsão da Arrecadação e Memória de Cálculo das Metas Fiscais - 23/29</div>
</footer>
</div>
</body>
</html>
